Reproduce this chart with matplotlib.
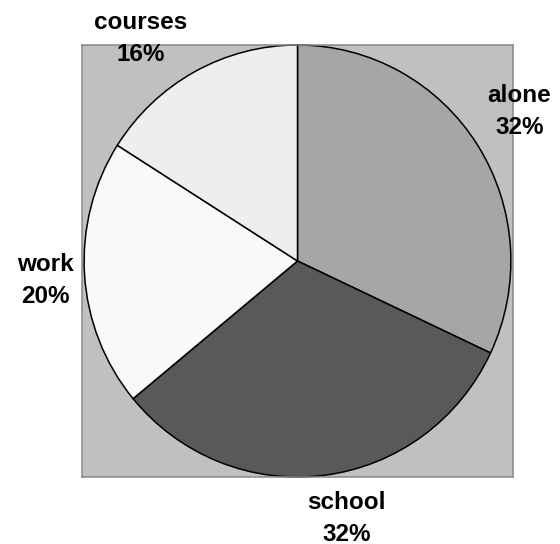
import numpy as np
import matplotlib.pyplot as plt

labels = ['alone', 'school', 'work', 'courses']
shares = [32, 32, 20, 16]
colors = ['#a6a6a6', '#595959', '#f9f9f9', '#eeeeee']

# label centres in data units (radius of pie = 1)
label_pos = [(1.04, 0.69), (0.23, -1.19), (-1.18, -0.09), (-0.735, 1.03)]

plt.rcParams['font.family'] = ['Liberation Sans', 'DejaVu Sans']

fig = plt.figure(figsize=(5.6, 5.44), dpi=100)
ax = fig.add_axes([82/560, 67/544, 431/560, 432/544])

wedges, texts = ax.pie(shares, labels=[l + '\n' + str(s) + '%' for l, s in zip(labels, shares)],
                       colors=colors, startangle=90, counterclock=False, frame=True,
                       wedgeprops={'edgecolor': 'black', 'linewidth': 1.1},
                       textprops={'fontsize': 17.5, 'fontweight': 'bold'})
for t, p in zip(texts, label_pos):
    t.set_position(p)
    t.set_ha('center')
    t.set_va('center')
    t.set_clip_on(False)
    t.set_linespacing(1.5)

ax.set_facecolor('#c0c0c0')
ax.set_xlim(-1.01, 1.01)
ax.set_ylim(-1.0, 1.0)
ax.set_aspect('auto')
ax.set_xticks([])
ax.set_yticks([])
for sp in ax.spines.values():
    sp.set_color('#888888')
    sp.set_linewidth(1.1)

fig.savefig('out.png', dpi=100)
